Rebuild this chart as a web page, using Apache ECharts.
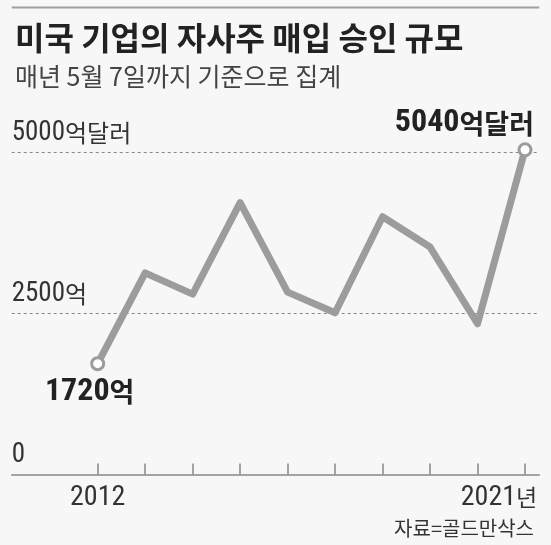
<!DOCTYPE html>
<html><head><meta charset="utf-8">
<script src="https://cdn.jsdelivr.net/npm/echarts@6/dist/echarts.min.js"></script>
<style>html,body{margin:0;padding:0;background:#f7f7f7;}#c{width:551px;height:545px;}</style>
</head><body><div id="c"></div>
<script>
const years = [2012, 2013, 2014, 2015, 2016, 2017, 2018, 2019, 2020, 2021];
const values = [1720, 3130, 2800, 4220, 2830, 2510, 4000, 3530, 2340, 5040];
const yTicks = [0, 2500, 5000];
const xLabelYears = [2012, 2021];
const titleText = '미국 기업의 자사주 매입 승인 규모';
const subText = '매년 5월 7일까지 기준으로 집계';
const sourceText = '자료=골드만삭스';

const NUM = '"Roboto Condensed", "Noto Sans CJK KR", sans-serif';
const KR = '"Noto Sans CJK KR", sans-serif';
const GRAY = '#9c9c9c';

const seriesData = values.map((v, i) => {
  const item = { value: [years[i], v] };
  if (i === 0) {
    item.symbol = 'circle';
    item.label = { show: true, position: 'bottom', offset: [-8, 0],
      formatter: '{n|1720}{k|억}' };
  } else if (i === values.length - 1) {
    item.symbol = 'circle';
    item.label = { show: true, position: 'top', align: 'right', offset: [9, 2],
      formatter: '{n|5040}{k|억달러}' };
  } else {
    item.symbol = 'none';
  }
  return item;
});

const chart = echarts.init(document.getElementById('c'), null, { renderer: 'canvas' });
chart.setOption({
  backgroundColor: '#f7f7f7',
  animation: false,
  title: [
    { text: titleText, subtext: subText, left: 10, top: 17, itemGap: 10,
      textStyle: { fontFamily: KR, fontWeight: 'bold', fontSize: 32, color: '#222' },
      subtextStyle: { fontFamily: KR, fontSize: 25, color: '#444' } },
    { text: sourceText, right: 12, top: 513,
      textStyle: { fontFamily: KR, fontWeight: 'normal', fontSize: 20, color: '#333' } }
  ],
  graphic: [
    { type: 'line', shape: { x1: 11.7, y1: 7.5, x2: 539.3, y2: 7.5 }, style: { stroke: '#a0a0a0', lineWidth: 2 } }
  ],
  grid: { left: 11.7, right: 11.7, top: 133, bottom: 70.5, outerBoundsMode: 'none', containLabel: false },
  xAxis: {
    type: 'value', min: 2010.189, max: 2021.301,
    splitLine: { show: false },
    axisLine: { show: true, lineStyle: { color: '#888', width: 1.5 } },
    axisTick: { show: true, inside: true, length: 11, customValues: years, lineStyle: { color: '#888', width: 1.5 } },
    axisLabel: {
      customValues: xLabelYears, margin: 9, color: '#333',
      formatter: v => v === 2021 ? '{e|2021}{k|년}{p|}' : '{n|' + v + '}',
      rich: {
        n: { fontFamily: NUM, fontSize: 28, color: '#333' },
        e: { fontFamily: NUM, fontSize: 28, color: '#333' },
        k: { fontFamily: KR, fontSize: 23, color: '#333' },
        p: { width: 52 }
      }
    }
  },
  yAxis: {
    type: 'value', min: 0, max: 5300,
    axisLine: { show: false },
    axisTick: { show: false, customValues: [2500, 5000] },
    splitLine: { show: true, lineStyle: { color: '#888', type: [3, 3], width: 1 } },
    axisLabel: {
      customValues: yTicks, inside: true, margin: 0, align: 'left', verticalAlign: 'bottom',
      padding: [0, 0, 6, 0],
      formatter: v => v === 5000 ? '{n|5000}{k|억달러}' : v === 2500 ? '{n|2500}{k|억}' : '{n|0}',
      rich: {
        n: { fontFamily: NUM, fontSize: 27, color: '#333' },
        k: { fontFamily: KR, fontSize: 24, color: '#333' }
      }
    }
  },
  series: [{
    type: 'line', data: seriesData, symbolSize: 12,
    lineStyle: { color: GRAY, width: 7, join: 'round' },
    itemStyle: { color: '#fff', borderColor: GRAY, borderWidth: 3 },
    label: {
      rich: {
        n: { fontFamily: NUM, fontSize: 32, fontWeight: 'bold', color: '#222' },
        k: { fontFamily: KR, fontSize: 27, fontWeight: 'bold', color: '#222' }
      }
    },
    z: 3
  }]
});
</script></body></html>
